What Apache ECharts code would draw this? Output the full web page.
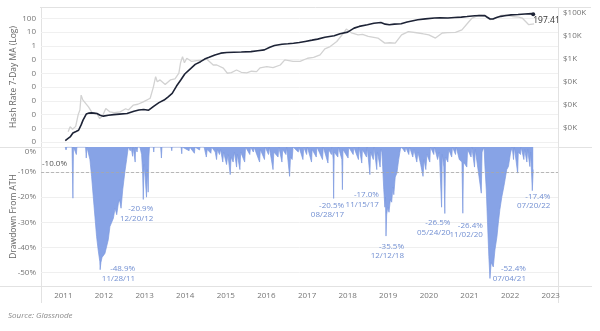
<!DOCTYPE html>
<html>
<head>
<meta charset="utf-8">
<script src="https://cdn.jsdelivr.net/npm/echarts@6/dist/echarts.min.js"></script>
<style>
  html, body { margin: 0; padding: 0; background: #ffffff; }
  #chart { width: 600px; height: 331px; }
</style>
</head>
<body>
<div id="chart"></div>
<script>
// Bitcoin network hash rate (7-day MA, EH/s)
const hashRate = [
  ['2011-01-18', 1.3e-7], ['2011-02-10', 1.8e-7], ['2011-03-03', 2.4e-7], ['2011-03-28', 4.7e-7],
  ['2011-04-25', 6.0e-7], ['2011-05-18', 7.4e-7], ['2011-06-10', 1.8e-6], ['2011-06-27', 4.0e-6],
  ['2011-07-26', 1.1e-5], ['2011-08-20', 1.3e-5], ['2011-09-10', 1.35e-5], ['2011-10-05', 1.3e-5],
  ['2011-10-30', 1.2e-5], ['2011-11-28', 9.0e-6], ['2011-12-27', 7.8e-6], ['2012-02-10', 9.0e-6],
  ['2012-03-28', 1.0e-5], ['2012-05-20', 1.1e-5], ['2012-07-27', 1.2e-5], ['2012-09-27', 1.8e-5],
  ['2012-11-10', 2.2e-5], ['2012-12-24', 2.4e-5], ['2013-02-06', 2.1e-5], ['2013-03-26', 4.2e-5],
  ['2013-05-10', 7.5e-5], ['2013-06-25', 1.15e-4], ['2013-08-01', 2.0e-4], ['2013-09-06', 3.5e-4],
  ['2013-10-15', 1.2e-3], ['2013-11-22', 3.3e-3], ['2013-12-28', 9.0e-3], ['2014-02-21', 0.023],
  ['2014-04-01', 0.045], ['2014-05-19', 0.071], ['2014-06-25', 0.11], ['2014-08-04', 0.148],
  ['2014-09-25', 0.22], ['2014-11-17', 0.295], ['2015-01-10', 0.33], ['2015-03-14', 0.347],
  ['2015-05-20', 0.36], ['2015-08-15', 0.38], ['2015-10-15', 0.44], ['2015-12-14', 0.51],
  ['2016-02-01', 0.8], ['2016-03-14', 1.05], ['2016-05-20', 1.3], ['2016-07-13', 1.41],
  ['2016-09-01', 1.55], ['2016-10-23', 1.74], ['2016-12-15', 2.1], ['2017-02-15', 2.6],
  ['2017-04-06', 3.1], ['2017-06-10', 4.2], ['2017-09-02', 5.4], ['2017-10-25', 7.5],
  ['2018-01-01', 10], ['2018-02-28', 19.5], ['2018-04-15', 26], ['2018-06-28', 34],
  ['2018-08-25', 44], ['2018-10-27', 50], ['2018-12-05', 38], ['2019-01-11', 34],
  ['2019-02-25', 38], ['2019-04-27', 41], ['2019-06-20', 55], ['2019-09-24', 79],
  ['2019-12-01', 92], ['2020-02-21', 105], ['2020-04-10', 110], ['2020-06-21', 105],
  ['2020-08-20', 115], ['2020-10-19', 123], ['2020-12-10', 135], ['2021-02-17', 155],
  ['2021-04-20', 160], ['2021-05-20', 158], ['2021-06-10', 120], ['2021-07-05', 90],
  ['2021-07-31', 89], ['2021-09-01', 115], ['2021-10-10', 140], ['2021-11-14', 155],
  ['2022-01-10', 180], ['2022-03-14', 190], ['2022-05-15', 205], ['2022-07-13', 219],
  ['2022-07-28', 197.41]
];

// BTC price (USD)
const btcPrice = [
  ['2011-02-13', 0.7], ['2011-03-03', 1.15], ['2011-03-25', 0.9], ['2011-04-22', 1.2],
  ['2011-05-15', 4], ['2011-05-30', 6.2], ['2011-06-10', 27.5], ['2011-06-25', 17],
  ['2011-07-12', 20], ['2011-08-15', 8.5], ['2011-09-12', 5.1], ['2011-10-10', 4],
  ['2011-10-28', 4.4], ['2011-11-24', 2.6], ['2011-12-20', 3.5], ['2012-01-18', 7.2],
  ['2012-02-25', 5.1], ['2012-04-01', 4.8], ['2012-05-25', 5.1], ['2012-07-15', 7],
  ['2012-08-08', 6.2], ['2012-09-20', 10], ['2012-11-01', 11], ['2012-12-20', 14],
  ['2013-02-20', 20], ['2013-03-20', 60], ['2013-04-10', 174], ['2013-04-25', 105],
  ['2013-05-20', 126], ['2013-07-05', 80], ['2013-08-20', 126], ['2013-10-01', 140],
  ['2013-11-05', 250], ['2013-11-20', 700], ['2013-12-08', 1300], ['2013-12-25', 700],
  ['2014-01-15', 1100], ['2014-02-28', 800], ['2014-04-15', 870], ['2014-06-01', 900],
  ['2014-07-15', 1000], ['2014-09-10', 560], ['2014-10-12', 560], ['2014-12-10', 410],
  ['2015-01-15', 245], ['2015-02-20', 260], ['2015-04-08', 340], ['2015-05-20', 270],
  ['2015-07-08', 257], ['2015-08-20', 300], ['2015-10-05', 290], ['2015-11-05', 420],
  ['2016-01-05', 480], ['2016-03-01', 430], ['2016-05-05', 560], ['2016-06-15', 930],
  ['2016-07-01', 800], ['2016-08-28', 800], ['2016-10-30', 800], ['2017-01-05', 1100],
  ['2017-03-01', 1200], ['2017-04-28', 1550], ['2017-06-10', 2800], ['2017-07-28', 3550],
  ['2017-09-25', 5900], ['2017-11-25', 13800], ['2017-12-20', 20400], ['2018-02-05', 13800],
  ['2018-04-05', 11500], ['2018-05-15', 12000], ['2018-07-05', 9800], ['2018-09-30', 8300],
  ['2018-12-01', 5000], ['2019-01-15', 5200], ['2019-03-05', 5000], ['2019-05-01', 11500],
  ['2019-07-01', 15800], ['2019-09-30', 13800], ['2019-11-15', 12500], ['2020-01-01', 11500],
  ['2020-03-01', 8300], ['2020-05-01', 13800], ['2020-06-15', 14200], ['2020-08-28', 14800],
  ['2020-10-25', 19000], ['2020-12-28', 43600], ['2021-01-25', 61600], ['2021-03-28', 85000],
  ['2021-05-26', 72000], ['2021-07-08', 52500], ['2021-08-25', 61600], ['2021-10-15', 80000],
  ['2021-11-22', 85000], ['2022-01-20', 72000], ['2022-03-20', 68000], ['2022-04-20', 61600],
  ['2022-06-18', 31600], ['2022-08-05', 34700]
];

// Hash rate drawdown from all-time high (%)
const drawdown = [
  ['2011-01-18', 0], ['2011-01-25', -1.2], ['2011-02-01', 0], ['2011-03-20', 0], ['2011-03-28', -20.4],
  ['2011-04-02', 0], ['2011-04-28', -3], ['2011-05-03', 0], ['2011-07-20', 0], ['2011-07-26', -4.4],
  ['2011-08-01', 0], ['2011-08-12', 0], ['2011-08-28', -5], ['2011-09-12', -11.7], ['2011-09-27', -19.8],
  ['2011-10-12', -27.8], ['2011-10-27', -35.7], ['2011-11-10', -41], ['2011-11-25', -45.7],
  ['2011-11-28', -48.9], ['2011-12-05', -46], ['2011-12-15', -44], ['2012-01-10', -42.4],
  ['2012-02-09', -37], ['2012-02-24', -31.7], ['2012-03-26', -28.4], ['2012-04-10', -24.4],
  ['2012-04-25', -27], ['2012-05-10', -22.4], ['2012-05-20', -21], ['2012-06-03', -24.4],
  ['2012-06-18', -17], ['2012-07-08', -9.7], ['2012-07-23', -5], ['2012-08-07', 0],
  ['2012-08-25', -1.5], ['2012-09-01', 0], ['2012-09-15', -3.7], ['2012-09-20', 0], ['2012-10-08', -6],
  ['2012-10-12', 0], ['2012-10-25', -2], ['2012-10-30', 0], ['2012-11-20', 0], ['2012-12-05', -3],
  ['2012-12-14', -10], ['2012-12-20', -20.9], ['2012-12-27', -7], ['2013-01-06', -12], ['2013-01-18', -20],
  ['2013-01-25', -9], ['2013-02-02', -18], ['2013-02-08', -4], ['2013-02-14', 0],
  ['2013-03-20', 0], ['2013-03-24', -2], ['2013-03-28', 0], ['2013-05-25', 0], ['2013-06-01', -4.4],
  ['2013-06-06', 0], ['2013-08-28', 0], ['2013-09-02', -1.5], ['2013-09-06', 0], ['2013-11-25', 0],
  ['2013-12-01', -2.7], ['2013-12-05', 0], ['2014-02-05', -1.5], ['2014-02-10', 0], ['2014-03-25', -2.5],
  ['2014-03-30', 0], ['2014-05-10', -1.2], ['2014-05-14', 0], ['2014-06-20', 0], ['2014-07-10', -4],
  ['2014-07-18', -1], ['2014-08-20', -2.5], ['2014-08-26', 0], ['2014-09-28', -2], ['2014-10-10', -5],
  ['2014-10-18', -1], ['2014-11-05', -3], ['2014-11-15', -1], ['2014-12-05', -6], ['2014-12-12', -2],
  ['2015-01-08', -7], ['2015-01-20', -3], ['2015-02-10', -11], ['2015-02-18', -4], ['2015-03-08', -6],
  ['2015-03-20', -2], ['2015-04-08', -8], ['2015-04-15', -3], ['2015-05-08', -9], ['2015-05-15', -2],
  ['2015-06-20', -6], ['2015-06-28', 0], ['2015-08-05', -3], ['2015-08-12', 0], ['2015-09-06', -2],
  ['2015-09-12', 0], ['2015-11-01', -6], ['2015-11-08', -1], ['2015-12-15', -5], ['2015-12-22', 0],
  ['2016-01-20', -3], ['2016-01-27', 0], ['2016-03-01', -9], ['2016-03-08', -2], ['2016-04-15', -4],
  ['2016-04-22', 0], ['2016-05-20', -6], ['2016-05-27', -1], ['2016-06-25', -3], ['2016-07-01', 0],
  ['2016-07-28', -11.7], ['2016-08-05', -4], ['2016-08-20', -5], ['2016-08-28', 0], ['2016-10-14', -2],
  ['2016-10-20', 0], ['2016-11-25', -5], ['2016-12-02', 0], ['2016-12-28', -3], ['2017-01-04', 0],
  ['2017-02-10', -6], ['2017-02-16', -1], ['2017-03-25', -4], ['2017-03-31', 0], ['2017-05-20', -5],
  ['2017-05-27', 0], ['2017-07-08', -6.4], ['2017-07-14', -1], ['2017-08-08', -3], ['2017-08-14', 0],
  ['2017-08-24', -5], ['2017-08-28', -20.5], ['2017-09-02', -2], ['2017-10-05', -4], ['2017-10-10', 0],
  ['2017-11-10', -5], ['2017-11-15', -17], ['2017-11-20', -1], ['2018-01-05', -4.4], ['2018-01-10', 0],
  ['2018-02-20', -3], ['2018-02-25', 0], ['2018-04-08', -5], ['2018-04-14', 0], ['2018-05-08', -6.4],
  ['2018-05-14', -1], ['2018-06-20', -4], ['2018-06-26', 0], ['2018-07-20', -11], ['2018-07-26', -2],
  ['2018-08-20', -5], ['2018-08-26', 0], ['2018-09-20', -9], ['2018-09-26', -2], ['2018-10-20', -8],
  ['2018-10-28', -1], ['2018-11-05', -2], ['2018-11-12', -7.8], ['2018-11-22', -17], ['2018-12-02', -24],
  ['2018-12-07', -20], ['2018-12-12', -35.5], ['2018-12-18', -27], ['2018-12-28', -24], ['2019-01-08', -26],
  ['2019-01-20', -21], ['2019-02-01', -22], ['2019-02-12', -16], ['2019-02-20', -19], ['2019-03-05', -12],
  ['2019-03-20', -10.4], ['2019-04-05', -5], ['2019-04-20', -1], ['2019-05-01', 0], ['2019-06-01', -2],
  ['2019-06-07', 0], ['2019-07-05', -3], ['2019-07-12', 0], ['2019-08-10', -4], ['2019-08-20', -1],
  ['2019-09-15', -6], ['2019-09-25', -2], ['2019-10-20', -7], ['2019-11-10', -11.7], ['2019-11-20', -5],
  ['2019-12-05', -9], ['2019-12-15', -3], ['2020-01-10', -6], ['2020-01-16', 0], ['2020-02-15', -3],
  ['2020-02-21', 0], ['2020-03-20', -5], ['2020-04-05', -2], ['2020-04-25', -24], ['2020-05-01', -3],
  ['2020-05-15', -8], ['2020-05-24', -26.5], ['2020-05-30', -4], ['2020-06-20', -6], ['2020-06-28', -1],
  ['2020-07-25', -4], ['2020-08-01', 0], ['2020-08-28', -3], ['2020-09-04', 0], ['2020-10-01', -5],
  ['2020-10-25', -6], ['2020-11-02', -26.4], ['2020-11-08', -6], ['2020-12-08', -8], ['2020-12-15', -1],
  ['2021-01-15', -4], ['2021-01-22', 0], ['2021-02-15', -8], ['2021-02-22', -1], ['2021-04-17', -18.4],
  ['2021-04-24', -2], ['2021-05-12', 0], ['2021-05-20', -7.8], ['2021-06-01', -17], ['2021-06-12', -30],
  ['2021-06-24', -43.7], ['2021-07-04', -52.4], ['2021-07-15', -46], ['2021-08-03', -47.8],
  ['2021-08-18', -41], ['2021-09-05', -35.7], ['2021-09-17', -30.4], ['2021-10-01', -25],
  ['2021-10-19', -19.8], ['2021-11-05', -16], ['2021-11-17', -13], ['2021-12-02', -9], ['2021-12-17', -7.8],
  ['2022-01-05', -2.4], ['2022-01-20', 0], ['2022-02-01', -5], ['2022-02-08', 0], ['2022-03-10', -10.4],
  ['2022-03-16', -2], ['2022-04-05', -3], ['2022-04-10', 0], ['2022-05-05', -5], ['2022-05-12', -1],
  ['2022-06-01', -6], ['2022-06-08', -1], ['2022-06-28', -7.8], ['2022-07-05', -2], ['2022-07-20', -17.4],
  ['2022-07-28', -9]
];

// Annotated drawdown troughs
const troughDates = ['2011-11-28', '2012-12-20', '2017-08-28', '2017-11-15', '2018-12-12',
                     '2020-05-24', '2020-11-02', '2021-07-04', '2022-07-20'];

// Axis ticks
const hashTicks = [1e-7, 1e-6, 1e-5, 1e-4, 1e-3, 1e-2, 1e-1, 1, 10, 100];
const priceTicks = [1, 10, 100, 1000, 10000, 100000];
const drawdownTicks = [0, -10, -20, -30, -40, -50];
const yearTicks = ['2011-01-01', '2012-01-01', '2013-01-01', '2014-01-01', '2015-01-01', '2016-01-01',
                   '2017-01-01', '2018-01-01', '2019-01-01', '2020-01-01', '2021-01-01', '2022-01-01', '2023-01-01'];
const guideLevel = -10;

// ---- layout ----
const L = 41, R = 558, T = 7, MID = 147, BOT = 286, AXB = 303;
const FONT = 'Open Sans';
const labelGray = '#767676';
const ddBlue = '#87a3e6';
const ddText = '#7390d2';
const rule = '#e2e2e2';

// label anchors (right edge / vertical centre) relative to each trough
const troughLabelOffsets = [[35, 4], [10, 14.5], [10.5, 12], [36.5, 10], [18, 15], [5.5, 14], [20, 17], [36, -5], [18, 10.5]];

// dates are placed on a numeric (millisecond) axis
const ts = s => Date.UTC(+s.slice(0, 4), +s.slice(5, 7) - 1, +s.slice(8, 10));
const toXY = rows => rows.map(([d, v]) => [ts(d), v]);
const xMin = ts('2010-06-14');
const xMax = ts('2023-03-08');
const yearValues = yearTicks.map(ts);

function mdY(s) {
  const [y, m, d] = s.split('-');
  return m + '/' + d + '/' + y.slice(2);
}
const ddLookup = {};
drawdown.forEach(([d, v]) => { ddLookup[d] = v; });

const lastHash = hashRate[hashRate.length - 1];

const chart = echarts.init(document.getElementById('chart'), null, { renderer: 'canvas' });

const xAxisBase = {
  type: 'value', min: xMin, max: xMax,
  splitLine: { show: false }, axisLine: { show: false }
};

const nameStyle = { color: '#666', fontSize: 8.5, fontFamily: FONT };

chart.setOption({
  animation: false,
  backgroundColor: '#ffffff',
  textStyle: { fontFamily: FONT },
  grid: [
    { left: L, right: 600 - R, top: T, height: MID - T, containLabel: false, outerBoundsMode: 'none' },
    { left: L, right: 600 - R, top: MID, height: BOT - MID, containLabel: false, outerBoundsMode: 'none' }
  ],
  xAxis: [
    Object.assign({}, xAxisBase, {
      gridIndex: 0, axisLabel: { show: false },
      axisTick: { show: false, customValues: yearValues }
    }),
    Object.assign({}, xAxisBase, {
      gridIndex: 1,
      axisLabel: {
        customValues: yearValues,
        formatter: v => String(new Date(v).getUTCFullYear()),
        color: labelGray, fontSize: 8, margin: 6, fontFamily: FONT
      },
      axisTick: { show: false, customValues: yearValues }
    })
  ],
  yAxis: [
    {
      type: 'log', gridIndex: 0, position: 'left',
      min: Math.pow(10, -7.35), max: Math.pow(10, 2.825),
      name: 'Hash Rate 7-Day MA (Log)', nameLocation: 'middle', nameGap: 23, nameMoveOverlap: false,
      nameTextStyle: nameStyle,
      axisLine: { show: false },
      axisTick: { show: false, customValues: hashTicks },
      axisLabel: {
        customValues: hashTicks, color: labelGray, fontSize: 8, margin: 5, fontFamily: FONT,
        formatter: v => v >= 1 ? String(Math.round(v)) : '0'
      },
      splitLine: { show: true, lineStyle: { color: '#f0f0f0', width: 1 } }
    },
    {
      type: 'log', gridIndex: 0, position: 'right',
      min: Math.pow(10, -0.817), max: Math.pow(10, 5.27),
      axisLine: { show: false },
      axisTick: { show: false, customValues: priceTicks },
      axisLabel: {
        customValues: priceTicks, color: labelGray, fontSize: 8, margin: 5, fontFamily: FONT,
        formatter: v => '$' + Math.round(v / 1000) + 'K'
      },
      splitLine: { show: false }
    },
    {
      type: 'value', gridIndex: 1, position: 'left',
      min: -55.4, max: 0,
      name: 'Drawdown From ATH', nameLocation: 'middle', nameGap: 23, nameMoveOverlap: false,
      nameTextStyle: nameStyle,
      axisLine: { show: false },
      axisTick: { show: false, customValues: drawdownTicks },
      axisLabel: {
        customValues: drawdownTicks, color: labelGray, fontSize: 8, margin: 5, fontFamily: FONT,
        lineHeight: 10, showMaxLabel: true,
        // the top label sits just under the panel divider
        formatter: v => v === 0 ? '\n' + v + '%' : v + '%'
      },
      splitLine: { show: true, lineStyle: { color: '#efefef', width: 1 } }
    }
  ],
  series: [
    {
      name: 'BTC Price', type: 'line', xAxisIndex: 0, yAxisIndex: 1,
      data: toXY(btcPrice), showSymbol: false, symbol: 'none', smooth: false,
      lineStyle: { color: '#d2d2d2', width: 1.3 }, z: 2
    },
    {
      name: 'Hash Rate', type: 'line', xAxisIndex: 0, yAxisIndex: 0,
      data: toXY(hashRate), showSymbol: false, symbol: 'none', smooth: false,
      lineStyle: { color: '#1d2336', width: 1.6 }, z: 3,
      markPoint: {
        symbol: 'circle', symbolSize: 4,
        itemStyle: { color: '#1d2336' },
        label: {
          show: true, position: 'inside', align: 'left', verticalAlign: 'middle',
          offset: [0, 6.5], color: '#333', fontSize: 8.5, fontFamily: FONT,
          formatter: p => String(p.value)
        },
        data: [{ coord: [ts(lastHash[0]), lastHash[1]], value: lastHash[1] }]
      }
    },
    {
      name: 'Drawdown', type: 'line', xAxisIndex: 1, yAxisIndex: 2,
      data: toXY(drawdown), showSymbol: false, symbol: 'none', smooth: false,
      lineStyle: { color: '#7d9ae0', width: 0.7 },
      areaStyle: { color: ddBlue, opacity: 1, origin: 'end' },
      z: 3,
      markLine: {
        silent: true, symbol: ['none', 'none'],
        lineStyle: { color: '#a8a8a8', type: [3, 2], width: 0.8 },
        label: {
          position: 'insideStartTop', distance: [1, 4], color: '#555', fontSize: 8, fontFamily: FONT,
          formatter: p => Number(p.value).toFixed(1) + '%'
        },
        data: [{ yAxis: guideLevel }]
      },
      markPoint: {
        symbol: 'circle', symbolSize: 1,
        itemStyle: { color: 'rgba(0,0,0,0)' },
        label: {
          show: true, position: 'inside', align: 'right', verticalAlign: 'middle',
          color: ddText, fontSize: 8, lineHeight: 9.5, fontFamily: FONT
        },
        data: troughDates.map((d, i) => {
          const v = ddLookup[d];
          return {
            coord: [ts(d), v], value: v,
            label: {
              offset: troughLabelOffsets[i],
              formatter: () => v.toFixed(1) + '%\n' + mdY(d)
            }
          };
        })
      }
    }
  ],
  graphic: [
    { type: 'line', silent: true, shape: { x1: L - 1, y1: T + 0.5, x2: 591, y2: T + 0.5 }, style: { stroke: rule, lineWidth: 1 } },
    { type: 'line', silent: true, shape: { x1: 0, y1: MID + 0.5, x2: 592, y2: MID + 0.5 }, style: { stroke: rule, lineWidth: 1 } },
    { type: 'line', silent: true, shape: { x1: 0, y1: BOT + 0.5, x2: 592, y2: BOT + 0.5 }, style: { stroke: rule, lineWidth: 1 } },
    { type: 'line', silent: true, shape: { x1: L + 0.5, y1: T, x2: L + 0.5, y2: AXB }, style: { stroke: rule, lineWidth: 1 } },
    { type: 'line', silent: true, shape: { x1: R + 0.5, y1: T, x2: R + 0.5, y2: AXB }, style: { stroke: rule, lineWidth: 1 } },
    {
      type: 'text', left: 8, top: 312, silent: true,
      style: { text: 'Source: Glassnode', fill: '#8a8a8a', font: 'italic 8px "Open Sans"' }
    }
  ]
});
</script>
</body>
</html>
